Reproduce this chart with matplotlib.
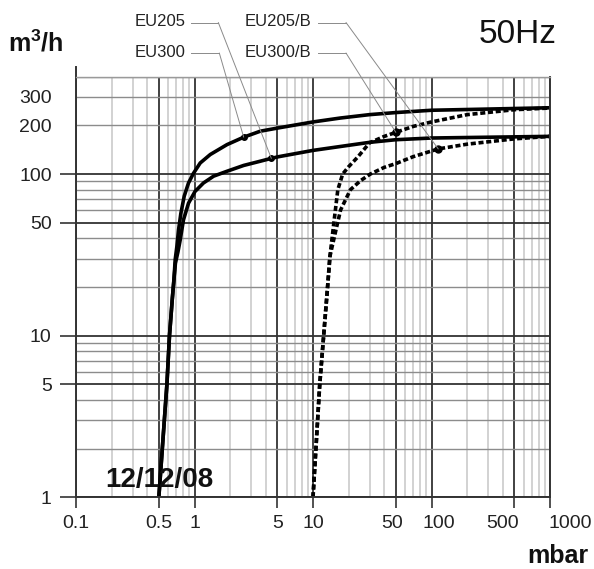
import matplotlib
matplotlib.use("Agg")
import matplotlib.pyplot as plt
import matplotlib.transforms as mtransforms
from matplotlib.lines import Line2D

plt.rcParams['font.family'] = ['Liberation Sans', 'DejaVu Sans']
plt.rcParams['mathtext.fontset'] = 'custom'
plt.rcParams['mathtext.rm'] = 'Liberation Sans'
plt.rcParams['mathtext.bf'] = 'Liberation Sans:bold'

# EU205 (solid, upper)
eu205_x = [0.5, 0.585, 0.615, 0.65, 0.67, 0.687, 0.71, 0.733, 0.767, 0.819, 0.89, 0.98, 1.117,
           1.358, 1.88, 2.6, 3.59, 5.13, 10, 17, 30, 50, 100, 1000]
eu205_y = [1, 5, 10, 17, 22, 29.5, 35.6, 45, 57, 73, 88, 101, 117,
           132, 152, 169, 184, 193, 210, 222, 233, 240, 248, 257]
# EU300 (solid, lower)
eu300_x = [0.5, 0.585, 0.615, 0.65, 0.67, 0.69, 0.725, 0.757, 0.807, 0.89, 1.01, 1.19, 1.45,
           1.88, 2.6, 3.59, 4.45, 5.13, 10, 17, 30, 50, 100, 1000]
eu300_y = [1, 5, 10, 17, 22, 28, 33, 39, 52, 66, 78, 88, 97,
           104, 113, 120, 125, 128, 140, 148, 157, 163, 167, 171]
# EU205/B (dashed, upper)
eu205b_x = [10, 11.4, 12.3, 13.2, 13.9, 15.0, 16.2, 17.8, 20, 24, 30, 40, 50, 70, 100, 200, 500, 1000]
eu205b_y = [1, 5, 10, 19, 31, 50, 80, 100, 111, 128, 156, 171, 181, 197, 210, 233, 250, 256]
# EU300/B (dashed, lower)
eu300b_x = [10, 11.4, 12.3, 13.2, 13.9, 15.5, 17.1, 20.7, 25.2, 30.5, 40, 50, 70, 114, 200, 500, 1000]
eu300b_y = [1, 5, 10, 19, 31, 44, 60, 80, 91, 100, 110, 116, 128, 143, 153, 165, 171]

# points the labels point at
marks_solid_x = [2.6, 4.45]
marks_solid_y = [169, 125]
marks_dash_x = [50, 114]
marks_dash_y = [181, 143]

xticks = [0.1, 0.5, 1, 5, 10, 50, 100, 500, 1000]
xticklabels = ['0.1', '0.5', '1', '5', '10', '50', '100', '500', '1000']
yticks = [1, 5, 10, 50, 100]
yticklabels = ['1', '5', '10', '50', '100']

W, H = 594, 569
fig = plt.figure(figsize=(W / 100, H / 100), dpi=100)
ax = fig.add_axes([76 / W, 1 - 497.3 / H, 474 / W, 420.6 / H])
ax.set_xscale('log')
ax.set_yscale('log')
ax.set_xlim(0.1, 1000)
ax.set_ylim(1, 400)

# grid
xminor = [m * 10.0 ** e for e in range(-1, 3) for m in range(2, 10)]
yminor = [m * 10.0 ** e for e in range(0, 3) for m in range(2, 10)]
yminor = [v for v in yminor if v <= 400]
ax.set_xticks(xticks, labels=xticklabels)
ax.set_xticks(xminor, minor=True)
ax.set_yticks(yticks, labels=yticklabels)
ax.set_yticks(yminor, labels=[('%d' % v if v in (200, 300) else '') for v in yminor], minor=True)
ax.xaxis.grid(True, which='minor', color='#c6c6c6', lw=1.1)
ax.yaxis.grid(True, which='minor', color='#8c8c8c', lw=1.0)
ax.xaxis.grid(True, which='major', color='#333333', lw=1.3)
ax.yaxis.grid(True, which='major', color='#333333', lw=1.3)
ax.set_axisbelow(True)

ax.tick_params(axis='x', which='major', direction='out', length=8, width=1.2, pad=5,
               labelsize=14, color='#333333', labelcolor='#222222')
ax.tick_params(axis='y', which='major', direction='out', length=11.5, width=1.2, pad=6,
               labelsize=14, color='#333333', labelcolor='#222222')
ax.tick_params(axis='x', which='minor', length=0, labelbottom=False)
ax.tick_params(axis='y', which='minor', length=0, pad=17.5, labelsize=14, labelcolor='#222222')

# the original nudges a few x labels sideways
shift_px = {'50': -4, '100': 7, '500': -12}
for lab in ax.get_xticklabels():
    t = lab.get_text()
    if t in shift_px:
        lab.set_transform(lab.get_transform() +
                          mtransforms.ScaledTranslation(shift_px[t] / 100, 0, fig.dpi_scale_trans))
    if t == '1000':
        lab.set_ha('left')
        lab.set_transform(lab.get_transform() +
                          mtransforms.ScaledTranslation(-2 / 100, 0, fig.dpi_scale_trans))

for s in ['left', 'bottom', 'right']:
    ax.spines[s].set_color('#333333')
    ax.spines[s].set_linewidth(1.4)
ax.spines['top'].set_color('#9a9a9a')
ax.spines['top'].set_linewidth(1.0)
ax.add_line(Line2D([0, 0], [1, 1.024], transform=ax.transAxes, color='#333333',
                   lw=1.4, clip_on=False))

# curves
ax.plot(eu205_x, eu205_y, color='black', lw=2.6, solid_joinstyle='round')
ax.plot(eu300_x, eu300_y, color='black', lw=2.6, solid_joinstyle='round')
ax.plot(eu205b_x, eu205b_y, color='black', lw=2.6, dashes=(1.4, 0.75))
ax.plot(eu300b_x, eu300b_y, color='black', lw=2.6, dashes=(1.4, 0.75))
ax.plot(marks_solid_x, marks_solid_y, 'o', color='black', ms=4)
ax.plot(marks_dash_x, marks_dash_y, 'o', color='black', ms=5)

# labels with leader lines (positions in image pixels, top-left origin)
labels = [
    ('EU205', 135, 22, 191, 218.3, marks_solid_x[1], marks_solid_y[1]),
    ('EU300', 135, 52.5, 191, 219.3, marks_solid_x[0], marks_solid_y[0]),
    ('EU205/B', 245, 22, 318, 346, marks_dash_x[1], marks_dash_y[1]),
    ('EU300/B', 245, 52.5, 318, 346, marks_dash_x[0], marks_dash_y[0]),
]
for txt, tx, ty, lx0, lx1, mx, my in labels:
    fig.text(tx / W, 1 - ty / H, txt, fontsize=12, va='center', ha='left', color='#222222')
    fig.add_artist(Line2D([lx0 / W, lx1 / W], [1 - (ty + 0.5) / H, 1 - (ty + 0.5) / H],
                          transform=fig.transFigure, color='#8a8a8a', lw=0.7))
    ax.annotate('', xy=(mx, my), xycoords='data',
                xytext=(lx1 / W, 1 - (ty + 0.5) / H), textcoords='figure fraction',
                arrowprops=dict(arrowstyle='-', color='#8a8a8a', lw=0.7,
                                shrinkA=0, shrinkB=0))

fig.text(557 / W, 1 - 43 / H, '50Hz', fontsize=24, ha='right', va='baseline', color='#111111')
fig.text(8 / W, 1 - 52 / H, r'm$^{\mathbf{3}}$/h', fontsize=18, fontweight='bold',
         ha='left', va='baseline', color='#111111')
fig.text(588 / W, 1 - 563 / H, 'mbar', fontsize=18, fontweight='bold',
         ha='right', va='baseline', color='#111111')
fig.text(105 / W, 1 - 487 / H, '12/12/08', fontsize=20, fontweight='bold',
         ha='left', va='baseline', color='#111111')

fig.savefig('out.png', dpi=100)
